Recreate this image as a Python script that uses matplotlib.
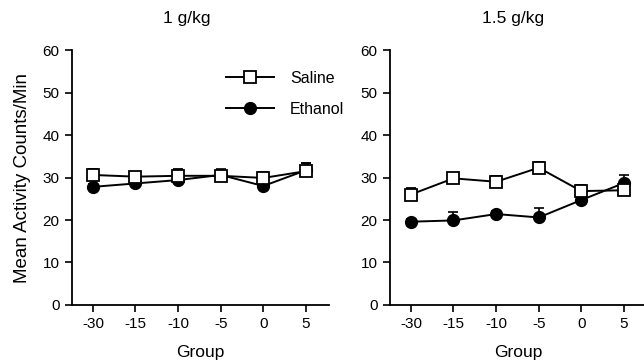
import numpy as np
import matplotlib
matplotlib.use("Agg")
import matplotlib.pyplot as plt
from matplotlib.lines import Line2D

plt.rcParams["font.family"] = ["Liberation Sans", "DejaVu Sans"]

groups = ["-30", "-15", "-10", "-5", "0", "5"]
titles = ["1 g/kg", "1.5 g/kg"]

# 1 g/kg
saline_1 = [30.6, 30.2, 30.4, 30.4, 29.9, 31.5]
saline_1_err = [1.5, 0.8, 1.5, 0.9, 1.5, 1.8]
ethanol_1 = [27.8, 28.6, 29.4, 30.6, 28.0, 31.7]
ethanol_1_err = [0.7, 0.7, 0.7, 1.3, 0.7, 1.8]

# 1.5 g/kg
saline_15 = [26.0, 29.8, 29.0, 32.3, 26.8, 27.0]
saline_15_err = [1.5, 0.8, 1.3, 1.4, 1.5, 0.8]
ethanol_15 = [19.6, 19.9, 21.4, 20.6, 24.7, 28.7]
ethanol_15_err = [0.7, 1.9, 0.7, 2.3, 0.7, 2.0]

fig = plt.figure(figsize=(6.44, 3.64), dpi=100)
ax1 = fig.add_axes([0.1118, 0.1621, 0.399, 0.7005])
ax2 = fig.add_axes([0.6056, 0.1621, 0.399, 0.7005])

x = np.arange(len(groups))
panels = [(ax1, saline_1, saline_1_err, ethanol_1, ethanol_1_err),
          (ax2, saline_15, saline_15_err, ethanol_15, ethanol_15_err)]

for ax, s, se, e, ee in panels:
    ax.errorbar(x, e, yerr=[np.zeros(len(e)), ee], color="black", lw=1.4,
                marker="o", ms=8.5, mfc="black", mec="black",
                capsize=3.5, elinewidth=1.2, capthick=1.2, zorder=2)
    ax.errorbar(x, s, yerr=[np.zeros(len(s)), se], color="black", lw=1.4,
                marker="s", ms=9, mfc="white", mec="black", mew=1.3,
                capsize=3.5, elinewidth=1.2, capthick=1.2, zorder=3)
    ax.set_xlim(-0.49, 5.54)
    ax.set_ylim(0, 60)
    ax.set_yticks([0, 10, 20, 30, 40, 50, 60])
    ax.set_xticks(x)
    ax.set_xticklabels(groups)
    ax.spines["top"].set_visible(False)
    ax.spines["right"].set_visible(False)
    ax.spines["left"].set_linewidth(1.3)
    ax.spines["bottom"].set_linewidth(1.3)
    ax.tick_params(direction="out", length=5, width=1.2, labelsize=11, pad=4)
    ax.set_xlabel("Group", fontsize=12.5, labelpad=10)

ax1.set_ylabel("Mean Activity Counts/Min", fontsize=13.5, labelpad=8)

fig.text(187 / 644, 1 - 19 / 364, titles[0], fontsize=12.5, ha="center", va="center")
fig.text(513 / 644, 1 - 19 / 364, titles[1], fontsize=12.5, ha="center", va="center")

handles = [Line2D([], [], color="black", lw=1.4, marker="s", ms=9, mfc="white", mec="black", mew=1.3),
           Line2D([], [], color="black", lw=1.4, marker="o", ms=8.5, mfc="black")]
ax1.legend(handles, ["Saline", "Ethanol"], loc="upper left",
           bbox_to_anchor=(218 / 644, 1 - 63 / 364), bbox_transform=fig.transFigure,
           frameon=False, fontsize=11.5, handlelength=3.0, handletextpad=1.0,
           labelspacing=1.0, borderpad=0)

fig.savefig("out.png", dpi=100)
